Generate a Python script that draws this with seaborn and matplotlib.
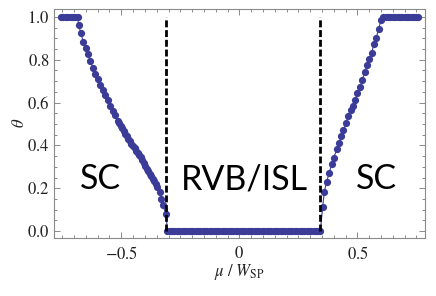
import numpy as np
import pandas as pd
import matplotlib
matplotlib.use("Agg")
import matplotlib.pyplot as plt
from matplotlib.ticker import MultipleLocator, FuncFormatter
import seaborn as sns

# ---------------- data ----------------
mu_left_flat = [-0.755, -0.745, -0.735, -0.725, -0.715, -0.705, -0.695, -0.685]
theta_left_flat = [1.0] * len(mu_left_flat)

mu_left_curve = [-0.681, -0.671, -0.661, -0.650, -0.641, -0.631, -0.620, -0.610,
                 -0.600, -0.590, -0.579, -0.569, -0.558, -0.548, -0.537, -0.526,
                 -0.516, -0.509, -0.503, -0.496, -0.490, -0.483, -0.477, -0.470,
                 -0.464, -0.457, -0.451, -0.444, -0.438, -0.431, -0.425, -0.418,
                 -0.412, -0.405, -0.399, -0.392, -0.386, -0.379, -0.373, -0.366,
                 -0.360, -0.353, -0.347, -0.338, -0.332, -0.325, -0.310]
theta_left_curve = [0.964, 0.923, 0.884, 0.855, 0.825, 0.792, 0.763, 0.735,
                    0.711, 0.683, 0.661, 0.636, 0.610, 0.586, 0.563, 0.540,
                    0.516, 0.503, 0.492, 0.479, 0.468, 0.455, 0.444, 0.432,
                    0.421, 0.408, 0.398, 0.386, 0.375, 0.366, 0.357, 0.346,
                    0.334, 0.318, 0.305, 0.292, 0.281, 0.268, 0.257, 0.244,
                    0.232, 0.219, 0.207, 0.184, 0.150, 0.122, 0.078]

mu_gap = [-0.305, -0.295, -0.285, -0.275, -0.265, -0.255, -0.245, -0.235, -0.225,
          -0.215, -0.205, -0.195, -0.185, -0.175, -0.165, -0.155, -0.145, -0.135,
          -0.125, -0.115, -0.105, -0.095, -0.085, -0.075, -0.065, -0.055, -0.045,
          -0.035, -0.025, -0.015, -0.005, 0.005, 0.015, 0.025, 0.035, 0.045, 0.055,
          0.065, 0.075, 0.085, 0.095, 0.105, 0.115, 0.125, 0.135, 0.145, 0.155,
          0.165, 0.175, 0.185, 0.195, 0.205, 0.215, 0.225, 0.235, 0.245, 0.255,
          0.265, 0.275, 0.285, 0.295, 0.305, 0.315, 0.325, 0.335, 0.343]
theta_gap = [0.0] * len(mu_gap)

mu_right_curve = [0.353, 0.360, 0.370, 0.381, 0.391, 0.400, 0.413, 0.422, 0.432,
                  0.441, 0.452, 0.460, 0.472, 0.480, 0.491, 0.500, 0.511, 0.521,
                  0.531, 0.541, 0.551, 0.561, 0.570, 0.580, 0.590, 0.600]
theta_right_curve = [0.114, 0.184, 0.231, 0.273, 0.312, 0.343, 0.382, 0.413, 0.443,
                     0.473, 0.504, 0.535, 0.566, 0.586, 0.614, 0.646, 0.675, 0.705,
                     0.743, 0.774, 0.805, 0.833, 0.875, 0.903, 0.945, 0.984]

mu_right_flat = [0.610, 0.620, 0.630, 0.640, 0.650, 0.660, 0.670, 0.680, 0.690,
                 0.700, 0.710, 0.720, 0.730, 0.740, 0.750, 0.757]
theta_right_flat = [1.0] * len(mu_right_flat)

transitions = [-0.310, 0.343]
phase_labels = ["SC", "RVB/ISL", "SC"]
phase_label_mu = [-0.589, 0.020, 0.579]
phase_label_theta = [0.243, 0.243, 0.243]

x_ticks = [-0.5, 0.0, 0.5]
y_ticks = [0.0, 0.2, 0.4, 0.6, 0.8, 1.0]

# ---------------- build table ----------------
mu_all = mu_left_flat + mu_left_curve + mu_gap + mu_right_curve + mu_right_flat
theta_all = theta_left_flat + theta_left_curve + theta_gap + theta_right_curve + theta_right_flat
df = pd.DataFrame({"mu": mu_all, "theta": theta_all})

# ---------------- plot ----------------
sns.set_style("ticks")
plt.rcParams["mathtext.fontset"] = "stix"
plt.rcParams["font.family"] = ["Liberation Serif", "DejaVu Serif"]

fig = plt.figure(figsize=(4.36, 2.96), dpi=100)
ax = fig.add_axes([54 / 436, 1 - 237.7 / 296, (424.7 - 54) / 436, (237.7 - 9) / 296])

color = "#3b3b98"
sns.lineplot(data=df, x="mu", y="theta", sort=False, estimator=None, ax=ax,
             color=color, linewidth=0.8, marker="o", markersize=5.2,
             markeredgewidth=0, legend=False)

ax.vlines(transitions, 0, 1, colors="black", linestyles=(0, (2.5, 1.0)),
          linewidth=2.0, zorder=3)

for lab, xm, ym in zip(phase_labels, phase_label_mu, phase_label_theta):
    ax.text(xm, ym, lab, ha="center", va="center", fontsize=24.5,
            family=["Lato", "DejaVu Sans"], color="black")

ax.set_xlim(-0.785, 0.785)
ax.set_ylim(-0.031, 1.037)
ax.set_xticks(x_ticks)
ax.set_yticks(y_ticks)
ax.xaxis.set_minor_locator(MultipleLocator(0.05))
ax.yaxis.set_minor_locator(MultipleLocator(0.05))


def fmt_x(v, pos):
    if abs(v) < 1e-9:
        return r"$0$"
    return f"${v:.1f}$"


ax.xaxis.set_major_formatter(FuncFormatter(fmt_x))
ax.yaxis.set_major_formatter(FuncFormatter(lambda v, p: f"${v:.1f}$"))

frame_col = "#8a8a8a"
for s in ax.spines.values():
    s.set_color(frame_col)
    s.set_linewidth(0.8)
ax.tick_params(which="both", direction="in", top=True, right=True, color=frame_col,
               width=0.7)
ax.tick_params(which="major", length=4.0, labelsize=12, labelcolor="#222222")
ax.tick_params(which="minor", length=2.2)
ax.tick_params(axis="x", which="major", pad=6)
ax.tick_params(axis="y", which="major", pad=3)

ax.set_xlabel(r"$\mu\ /\ W_{\mathrm{SP}}$", fontsize=12, color="#222222", va="center")
ax.set_ylabel(r"$\theta$", fontsize=12, color="#222222", va="center")
ax.xaxis.set_label_coords(0.5, (237.7 - 272) / 228.7)
ax.yaxis.set_label_coords((20 - 54) / 370.7, 0.5)

fig.savefig("out.png", dpi=100)
